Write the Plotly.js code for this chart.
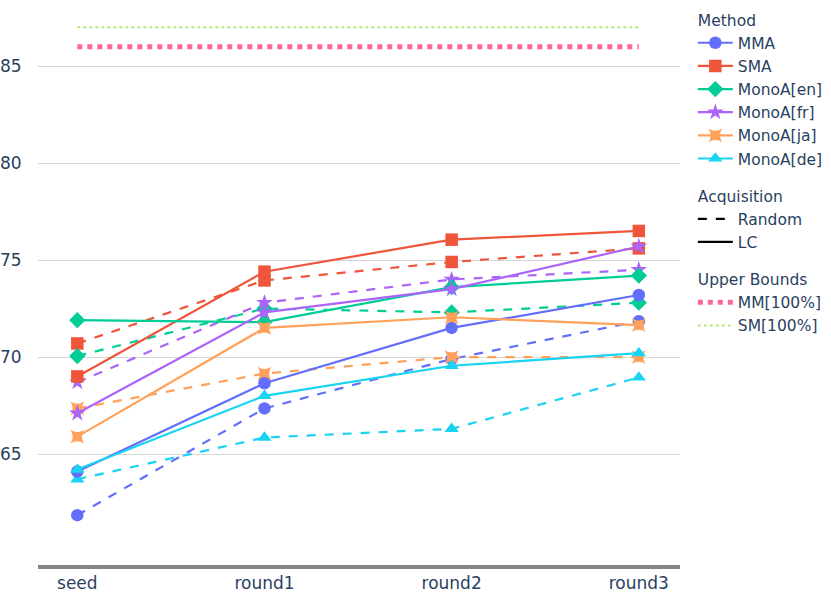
<!DOCTYPE html>
<html>
<head>
<meta charset="utf-8">
<script src="https://cdn.plot.ly/plotly-3.0.1.min.js"></script>
<style>html,body{margin:0;padding:0;background:#fff;}#chart{width:831px;height:593px;}</style>
</head>
<body>
<div id="chart"></div>
<script>
const rounds = ["seed", "round1", "round2", "round3"];
const methods = ["MMA", "SMA", "MonoA[en]", "MonoA[fr]", "MonoA[ja]", "MonoA[de]"];
const lcMMA = [64.1, 68.65, 71.5, 73.2];
const lcSMA = [69.0, 74.4, 76.05, 76.5];
const lcEn = [71.9, 71.8, 73.6, 74.2];
const lcFr = [67.1, 72.3, 73.5, 75.7];
const lcJa = [65.9, 71.5, 72.05, 71.65];
const lcDe = [64.2, 68.0, 69.55, 70.2];
const rdMMA = [61.85, 67.35, 69.9, 71.85];
const rdSMA = [70.7, 73.95, 74.9, 75.6];
const rdEn = [70.05, 72.5, 72.3, 72.8];
const rdFr = [68.7, 72.8, 74.0, 74.5];
const rdJa = [67.35, 69.15, 70.0, 70.0];
const rdDe = [63.7, 65.85, 66.3, 68.95];
const mmUpper = 86.0;
const smUpper = 87.0;
const yTicks = [65, 70, 75, 80, 85];

const lcVals = [lcMMA, lcSMA, lcEn, lcFr, lcJa, lcDe];
const rdVals = [rdMMA, rdSMA, rdEn, rdFr, rdJa, rdDe];
const colors = ["#636EFA", "#EF553B", "#00CC96", "#AB63FA", "#FFA15A", "#19D3F3"];
const symbols = ["circle", "square", "diamond", "star", "star-square", "triangle-up"];
const gtFont = {size: 15.5};

const traces = [];
methods.forEach((m, i) => {
  traces.push({
    type: "scatter", mode: "lines+markers", x: rounds, y: rdVals[i], name: m,
    legendgroup: "method", showlegend: false,
    line: {color: colors[i], width: 2.2, dash: "dash"},
    marker: {color: colors[i], symbol: symbols[i], size: 12.5}
  });
});
methods.forEach((m, i) => {
  traces.push({
    type: "scatter", mode: "lines+markers", x: rounds, y: lcVals[i], name: m,
    legendgroup: "method", legendgrouptitle: {text: "Method", font: gtFont},
    line: {color: colors[i], width: 2.2},
    marker: {color: colors[i], symbol: symbols[i], size: 12.5}
  });
});
traces.push({type: "scatter", mode: "lines", x: [null], y: [null], name: "Random",
  legendgroup: "acq", legendgrouptitle: {text: "Acquisition", font: gtFont}, line: {color: "black", width: 2.2, dash: "dash"}});
traces.push({type: "scatter", mode: "lines", x: [null], y: [null], name: "LC",
  legendgroup: "acq", legendgrouptitle: {text: "Acquisition", font: gtFont}, line: {color: "black", width: 2.2}});
traces.push({type: "scatter", mode: "lines", x: [rounds[0], rounds[rounds.length-1]], y: [mmUpper, mmUpper], name: "MM[100%]",
  legendgroup: "ub", legendgrouptitle: {text: "Upper Bounds", font: gtFont}, line: {color: "#FF6692", width: 5, dash: "dot"}});
traces.push({type: "scatter", mode: "lines", x: [rounds[0], rounds[rounds.length-1]], y: [smUpper, smUpper], name: "SM[100%]",
  legendgroup: "ub", legendgrouptitle: {text: "Upper Bounds", font: gtFont}, line: {color: "#B6E880", width: 2, dash: "dot"}});

const layout = {
  width: 831, height: 593,
  margin: {l: 38, r: 151, t: 3, b: 28},
  paper_bgcolor: "#fff", plot_bgcolor: "#fff",
  font: {family: "Verdana, 'DejaVu Sans', sans-serif", size: 15, color: "#2a3f5f"},
  showlegend: true,
  legend: {x: 1.02, xanchor: "left", y: 1, yanchor: "top", tracegroupgap: 14, itemwidth: 35, font: {size: 15.5}},
  xaxis: {type: "category", range: [-0.21, 3.22], showgrid: false, showline: true, linecolor: "#858585", linewidth: 3.5,
    ticks: "", tickfont: {size: 17}, zeroline: false, automargin: false},
  yaxis: {range: [59.28, 88.25], tickvals: yTicks, gridcolor: "#d6d6d6", gridwidth: 1, zeroline: false,
    showline: false, ticks: "outside", ticklen: 12, tickcolor: "rgba(0,0,0,0)", tickfont: {size: 17}, automargin: false}
};
Plotly.newPlot("chart", traces, layout, {displayModeBar: false});
</script>
</body>
</html>
